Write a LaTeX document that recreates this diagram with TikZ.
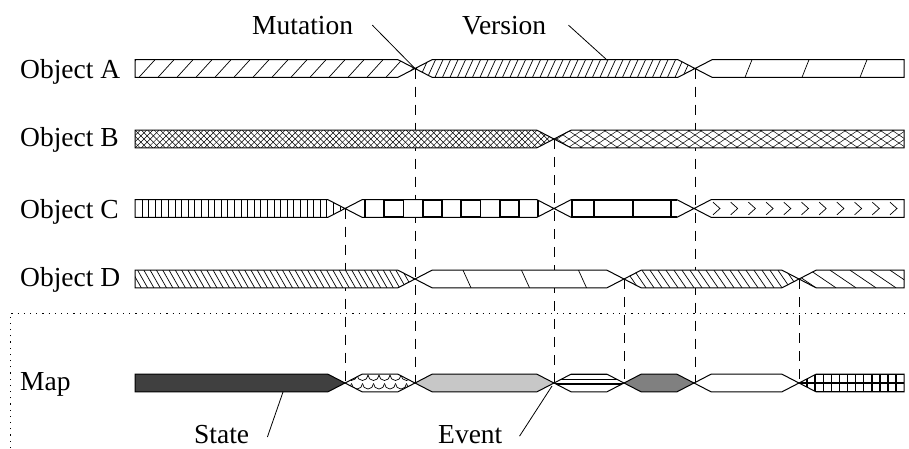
\documentclass[tikz,border=0pt]{standalone}
\usepackage{fontspec}
\setmainfont{Liberation Serif}
\begin{document}
\begin{tikzpicture}[x=1pt,y=-1pt,line join=miter,
  lbl/.style={inner sep=0pt,font=\fontsize{27.5}{33}\selectfont},
  pat/.style={line width=0.7pt},
  thickpat/.style={line width=1.7pt},
  guide/.style={line width=0.8pt,dash pattern=on 10pt off 8pt},
  leader/.style={line width=0.8pt},
  outl/.style={line width=1pt}]
\useasboundingbox (0,0) rectangle (909,448);
\def\h{8.8}
\def\tp{17}
% segment: #1 x1, #2 x2, #3 yc, #4 fill, #5 pattern code
\newcommand\seg[5]{%
  \pgfmathsetmacro\yt{#3-\h}\pgfmathsetmacro\yb{#3+\h}%
  \pgfmathsetmacro\xa{(#1==135) ? 135 : #1+\tp}%
  \pgfmathsetmacro\xb{(#2==904) ? 904 : #2-\tp}%
  \fill[#4] (#1,#3) -- (\xa,\yt) -- (\xb,\yt) -- (#2,#3) -- (\xb,\yb) -- (\xa,\yb) -- cycle;
  \begin{scope}
    \clip (#1,#3) -- (\xa,\yt) -- (\xb,\yt) -- (#2,#3) -- (\xb,\yb) -- (\xa,\yb) -- cycle;
    #5
  \end{scope}
  \draw[outl] (#1,#3) -- (\xa,\yt) -- (\xb,\yt) -- (#2,#3) -- (\xb,\yb) -- (\xa,\yb) -- cycle;
}

% crossing coordinates
\coordinate (cA1) at (415,68.5);
\coordinate (cA2) at (695,68.5);
\coordinate (cB1) at (554,139);
\coordinate (cC1) at (345,208.5);
\coordinate (cD2) at (624,279);
\coordinate (cD3) at (799,279);
\coordinate (cM1) at (345,383);
\coordinate (cM2) at (415,383);
\coordinate (cM3) at (554,383);
\coordinate (cM4) at (624,383);
\coordinate (cM5) at (695,383);
\coordinate (cM6) at (799,383);

% dashed guides
\draw[guide] (cA1) -- (cM2);
\draw[guide] (cA2) -- (cM5);
\draw[guide] (cB1) -- (cM3);
\draw[guide] (cC1) -- (cM1);
\draw[guide] (cD2) -- (cM4);
\draw[guide] (cD3) -- (cM6);

% dotted frame
\coordinate (fr1) at (10,448);
\coordinate (fr2) at (10,313);
\coordinate (fr3) at (909,313);
\draw[line width=0.9pt,dash pattern=on 1.2pt off 5pt] (fr1) -- (fr2) -- (fr3);

% ---------- Object A ----------
\seg{135}{415}{68.5}{white}{\foreach \x in {120,139,...,430} \draw[pat] (\x,\yb) -- ({\x+16},\yt);}
\seg{415}{695}{68.5}{white}{\foreach \x in {405,412.5,...,700} \draw[pat] (\x,\yb) -- ({\x+8},\yt);}
\seg{695}{904}{68.5}{white}{\foreach \x in {745,802,860} \draw[pat] (\x,\yb) -- ({\x+7},\yt);}

% ---------- Object B ----------
\seg{135}{554}{139}{white}{\foreach \x in {110,116.3,...,570} {\draw[line width=0.5pt] (\x,\yb) -- ({\x+17.6},\yt); \draw[line width=0.5pt] (\x,\yt) -- ({\x+17.6},\yb);}}
\seg{554}{904}{139}{white}{\foreach \x in {520,532,...,910} {\draw[line width=0.5pt] (\x,\yb) -- ({\x+26},\yt); \draw[line width=0.5pt] (\x,\yt) -- ({\x+26},\yb);}}

% ---------- Object C ----------
\seg{135}{345}{208.5}{white}{\foreach \x in {142,148.6,...,345} \draw[pat] (\x,\yt) -- (\x,\yb);}
\seg{345}{554}{208.5}{white}{%
  \foreach \x in {365,384.25,...,540} \draw[thickpat] (\x,\yt) -- (\x,\yb);
  \foreach \x in {384.25,422.75,461.25,499.75} {\draw[thickpat] (\x,\yt) -- ({\x+19.25},\yt); \draw[thickpat] (\x,\yb) -- ({\x+19.25},\yb);}}
\seg{554}{694}{208.5}{white}{%
  \draw[thickpat] (572,\yt) -- (677,\yt); \draw[thickpat] (572,\yb) -- (677,\yb);
  \foreach \x in {572,594,633,671} \draw[thickpat] (\x,\yt) -- (\x,\yb);}
\seg{694}{904}{208.5}{white}{\foreach \x in {713,730.7,...,904} \draw[pat] (\x,{\yt+2.5}) -- ({\x+7},208.5) -- (\x,{\yb-2.5});}

% ---------- Object D ----------
\seg{135}{415}{279}{white}{\foreach \x in {125,131.3,...,420} \draw[pat] (\x,\yt) -- ({\x+10},\yb);}
\seg{415}{624}{279}{white}{\foreach \x in {463,521.5,578.5} \draw[pat] (\x,\yt) -- ({\x+8},\yb);}
\seg{624}{799}{279}{white}{\foreach \x in {610,618,...,800} \draw[pat] (\x,\yt) -- ({\x+12},\yb);}
\seg{799}{904}{279}{white}{\foreach \x in {770,790,...,910} \draw[pat] (\x,\yt) -- ({\x+26},\yb);}

% ---------- Map ----------
\seg{135}{345}{383}{black!75}{}
\seg{345}{415}{383}{white}{%
  \foreach \x in {346,357,...,415} \draw[pat] (\x,375) arc[start angle=180,end angle=0,radius=5.5];
  \foreach \x in {340.5,351.5,...,415} \draw[pat] (\x,383.5) arc[start angle=180,end angle=0,radius=5.5];}
\seg{415}{554}{383}{black!22}{}
\seg{554}{624}{383}{white}{%
  \draw[line width=2pt] (554,\yt) -- (624,\yt);
  \draw[line width=0.7pt] (554,379) -- (624,379);
  \draw[line width=2pt] (554,384.3) -- (624,384.3);}
\seg{624}{694}{383}{black!50}{}
\seg{694}{799}{383}{white}{}
\seg{799}{904}{383}{white}{%
  \foreach \x in {807,815.1,...,904} \draw[line width=1.4pt] (\x,\yt) -- (\x,\yb);
  \draw[line width=1.8pt] (799,383) -- (904,383);
  \draw[line width=2pt] (815,\yt) -- (904,\yt);
  \draw[line width=2pt] (815,\yb) -- (904,\yb);}

% ---------- labels ----------
\node[lbl,anchor=base west] (labA) at (20,78.3) {Object A};
\node[lbl,anchor=base west] (labB) at (20,146.7) {Object B};
\node[lbl,anchor=base west] (labC) at (20,218.3) {Object C};
\node[lbl,anchor=base west] (labD) at (20,286.7) {Object D};
\node[lbl,anchor=base west] (labM) at (20,390) {Map};
\node[lbl,anchor=base west] (labMut) at (252,34) {Mutation};
\node[lbl,anchor=base west] (labVer) at (462,34) {Version};
\node[lbl,anchor=base west] (labSt) at (194,443) {State};
\node[lbl,anchor=base west] (labEv) at (438,443) {Event};

% leaders
\coordinate (vTip) at (607,60);
\coordinate (sTip) at (283,392);
\coordinate (eTip) at (552,386);
\draw[leader] ([xshift=19pt]labMut.east) -- (cA1);
\draw[leader] ([xshift=22pt]labVer.east) -- (vTip);
\draw[leader] ([xshift=18pt,yshift=-3pt]labSt.east) -- (sTip);
\draw[leader] ([xshift=17pt,yshift=-2pt]labEv.east) -- (eTip);
\end{tikzpicture}
\end{document}
